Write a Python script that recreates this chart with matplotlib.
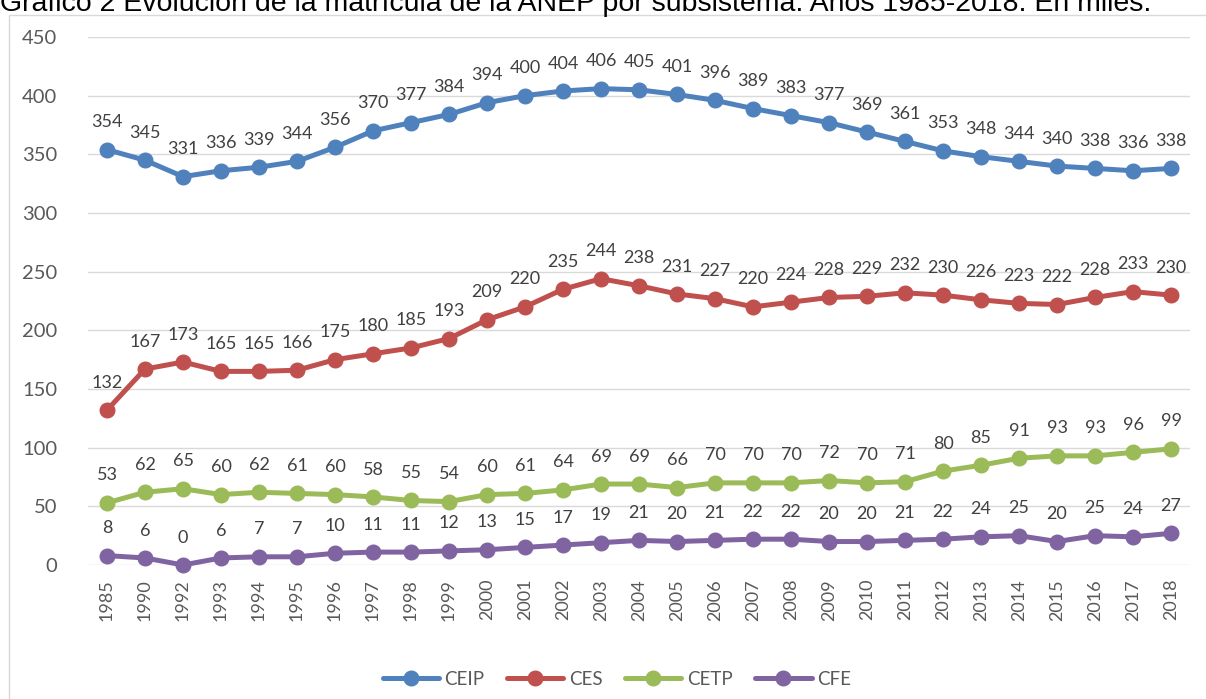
import matplotlib
matplotlib.use("Agg")
import matplotlib.pyplot as plt
from matplotlib.patches import Rectangle

years = ["1985", "1990"] + [str(y) for y in range(1992, 2019)]
ceip = [354, 345, 331, 336, 339, 344, 356, 370, 377, 384, 394, 400, 404, 406, 405,
        401, 396, 389, 383, 377, 369, 361, 353, 348, 344, 340, 338, 336, 338]
ces = [132, 167, 173, 165, 165, 166, 175, 180, 185, 193, 209, 220, 235, 244, 238,
       231, 227, 220, 224, 228, 229, 232, 230, 226, 223, 222, 228, 233, 230]
cetp = [53, 62, 65, 60, 62, 61, 60, 58, 55, 54, 60, 61, 64, 69, 69,
        66, 70, 70, 70, 72, 70, 71, 80, 85, 91, 93, 93, 96, 99]
cfe = [8, 6, 0, 6, 7, 7, 10, 11, 11, 12, 13, 15, 17, 19, 21,
       20, 21, 22, 22, 20, 20, 21, 22, 24, 25, 20, 25, 24, 27]

series = [("CEIP", ceip, "#4F81BD"), ("CES", ces, "#C0504D"),
          ("CETP", cetp, "#9BBB59"), ("CFE", cfe, "#8064A2")]

plt.rcParams["font.family"] = ["Lato", "DejaVu Sans"]

fig = plt.figure(figsize=(12.06, 6.99), dpi=100)
# chart frame
fig.patches.append(Rectangle((9 / 1206, -0.01), 1.0, (699 - 15) / 699 + 0.01,
                             transform=fig.transFigure, fill=False,
                             edgecolor="#D9D9D9", linewidth=1))
# title, partly above the top edge as in the source image
fig.text(0.0, 1 - 11 / 699,
         "Gráfico 2 Evolución de la matrícula de la ANEP por subsistema. Años 1985-2018. En miles.",
         ha="left", va="baseline", fontsize=20.5, family="Liberation Sans", color="black")

ax = fig.add_axes([88 / 1206, 134 / 699, (1190 - 88) / 1206, (565 - 37) / 699])
x = list(range(len(years)))
for name, vals, col in series:
    ax.plot(x, vals, color=col, linewidth=3.6, marker="o", markersize=10.5,
            label=name, solid_capstyle="round", clip_on=False)
    for xi, v in zip(x, vals):
        ax.annotate(str(v), (xi, v), xytext=(0, 14), textcoords="offset points",
                    ha="center", va="bottom", fontsize=13, color="#404040")

ax.set_xlim(-0.5, len(years) - 0.5)
ax.set_ylim(0, 450)
ax.set_yticks(range(0, 451, 50))
ax.set_xticks(x)
ax.set_xticklabels(years, rotation=90)
ax.grid(axis="y", color="#D9D9D9", linewidth=1)
ax.set_axisbelow(True)
for s in ax.spines.values():
    s.set_visible(False)
ax.tick_params(axis="both", length=0, colors="#595959")
ax.tick_params(axis="y", pad=22, labelsize=14.5)
ax.tick_params(axis="x", pad=10, labelsize=13)

ax.legend(loc="lower center", bbox_to_anchor=(0.48, -0.265), ncol=4, frameon=False,
          fontsize=13.5, handlelength=3.0, columnspacing=1.2, handletextpad=0.3,
          labelcolor="#595959")

fig.savefig("out.png", dpi=100)
